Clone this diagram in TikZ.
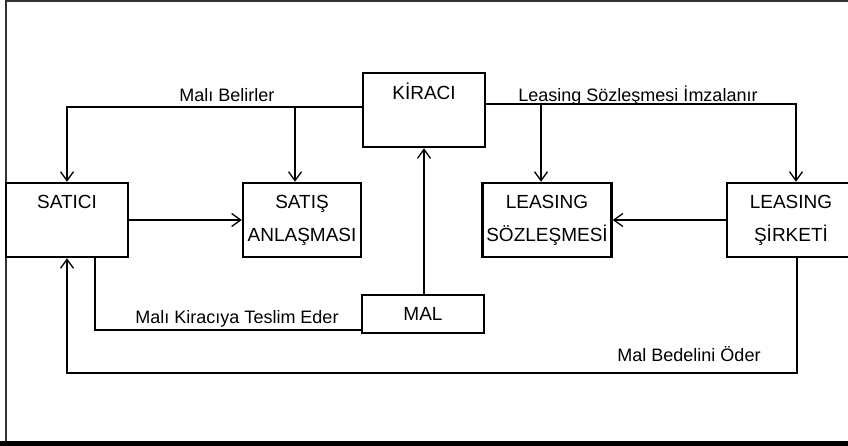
\documentclass[tikz,border=0pt]{standalone}
\usepackage{fontspec}
\setmainfont{Liberation Sans}
\usetikzlibrary{arrows.meta}
\newcommand{\dik}{\rule[-4pt]{0pt}{19pt}}
\tikzset{
  kutu/.style={draw, line width=2.5pt, minimum width=122pt, minimum height=74pt,
    inner sep=0pt, align=center, font=\fontsize{19}{33}\selectfont},
  kisa/.style={draw, line width=2.5pt, minimum width=122pt, minimum height=38pt,
    inner sep=0pt, font=\fontsize{19}{20}\selectfont},
  ok/.style={line width=1.3pt, -{Straight Barb[length=9pt,width=13pt,line width=1.3pt]}},
  cizgi/.style={line width=1.3pt},
  etiket/.style={font=\fontsize{18}{20}\selectfont, inner sep=0pt, anchor=base},
}
\begin{document}
\begin{tikzpicture}[x=1pt, y=-1pt]
		\path[clip] (0,0) rectangle (848,446);
		% cerceve
		\draw[line width=2pt, black!80] (848,1) -- (6,1) -- (6,442);
		\fill[black] (0,441) rectangle (848,446);
		% kutular
		\node[kutu] (kiraci) at (424,110) {\dik K\.IRACI\\\dik};
		\node[kutu] (satici) at (67,220) {\dik SATICI\\\dik};
		\node[kutu, minimum width=118pt] (satis) at (302,220) {\dik SATIŞ\\\dik ANLAŞMASI};
		\node[kutu, minimum width=129pt] (lsoz) at (547,220) {\dik LEASING\\\dik SÖZLEŞMES\.I};
		\node[kutu, minimum width=128pt] (lsirket) at (791,220) {\dik LEASING\\\dik Ş\.IRKET\.I};
		\node[kisa] (mal) at (423,314) {MAL};
		% baglantilar
		\coordinate (b1) at (295,107);
		\coordinate (b2) at (541,104);
		\draw[ok] ([yshift=3pt]kiraci.west) -| (satici.north);
		\draw[ok] (b1) -- (b1 |- satis.north);
		\draw[ok] ([yshift=6pt]kiraci.east) -| ([xshift=5pt]lsirket.north);
		\draw[ok] (b2) -- (b2 |- lsoz.north);
		\draw[ok] (satici.east) -- (satis.west);
		\draw[ok] (lsirket.west) -- (lsoz.east);
		\draw[ok] (mal.north -| kiraci.south) -- (kiraci.south);
		\draw[cizgi] ([xshift=28pt]satici.south) |- ([yshift=-16pt]mal.west);
		\draw[ok] ([xshift=6pt]lsirket.south) |- (67,373) -- (satici.south);
		% etiketler
		\node[etiket] (t1) at (227,102) {Malı Belirler};
		\node[etiket] (t2) at (638,102) {Leasing Sözleşmesi İmzalanır};
		\node[etiket] (t3) at (237,323) {Malı Kiracıya Teslim Eder};
		\node[etiket] (t4) at (689,361) {Mal Bedelini Öder};
	%
	\end{tikzpicture}
\end{document}
